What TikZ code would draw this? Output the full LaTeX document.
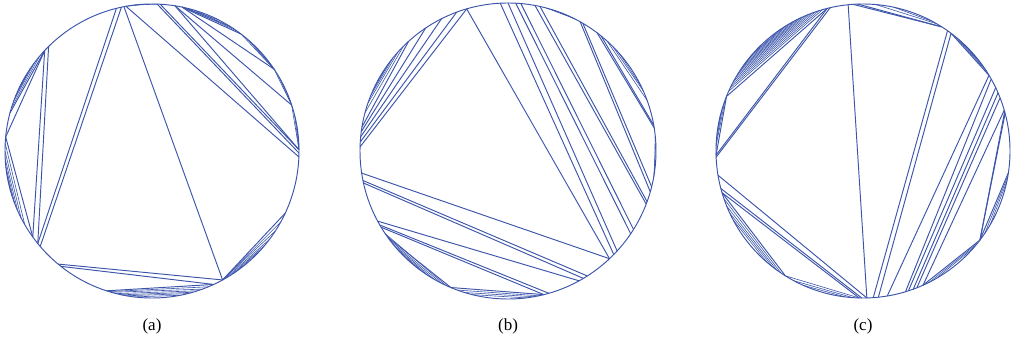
\documentclass[tikz,border=0pt]{standalone}
\usepackage{fontspec}
\setmainfont{Liberation Serif}
\definecolor{cblue}{RGB}{60,85,170}
\tikzset{
  chord/.style={draw=cblue, line width=0.95pt},
  thin chord/.style={draw=cblue, line width=0.6pt},
  rim/.style={draw=cblue, line width=0.95pt},
  caption/.style={font=\fontsize{17}{20}\selectfont, text=black}
}
\newcommand\chordset[3]{\foreach \a/\b in {#3} \draw[#2] (\a:#1) -- (\b:#1);}
\begin{document}
\begin{tikzpicture}[x=1pt,y=1pt]
\useasboundingbox (0,0) rectangle (1011,-344);
% ---------------- (a) ----------------
\begin{scope}[shift={(152,-151)}]
  \draw[rim] (0,0) circle (147);
  \chordset{147}{chord}{104/-141, 102/-139.5, 101/-61.3, 100.2/-2.3, 88/-0.8, 86.8/0.5, 81/0.5, 81/18.2, 78.2/33.8, 78.2/52.7,
    134.7/-141, 136.9/-144.2, 136.9/174.5, 136.9/165, 174.5/-144.2,
    -129.7/-61.3, -128.3/-65.2, -108/-65.2, -61.3/-25}
  \chordset{147}{thin chord}{100.2/93, 97/88, 78.2/58, 78.2/63, 76/55, 73/57,
    52.7/33.8, 49/33.8, 46/35, 33.8/18.2, 30/19, 18.2/0.5, 14/1, 10/2,
    140/163, 143/160, 146/158, 149/155, 152/153,
    177/-150, -180/-153, -177/-156, -174/-159, -171/-162,
    -107/-67.5, -106/-70, -104/-72, -102/-74, -100/-76, -97/-79,
    -61.3/-29, -61.3/-33, -60/-37, -58/-40, -56/-43}
  \node[caption] (la) at (0,-175) {(a)};
\end{scope}
% ---------------- (b) ----------------
\begin{scope}[shift={(508,-151)}]
  \draw[rim] (0,0) circle (148);
  \chordset{148}{chord}{106.2/-46.7, 106.2/178.4, 110.3/176.5, 116.7/174.5, 123.8/172.5, 132.2/170.7,
    -171.4/-46.7, -168.5/-57.6, -167.5/-59.4, -151.7/-61.3, -150/-74, -149/-76,
    -144.4/-112.7, -112.7/-76,
    93/-44.4, 90/-42.5, 87/-34, 85/-32, 79.5/-21, 77.5/-20, 60.8/-16, 59.6/-14, 53/9, 51/10}
  \chordset{148}{thin chord}{135/165, 138/161, 141/158, 144/155, 147/152,
    -146/-115, -143/-117, -141/-120, -139/-123, -136/-126,
    -110/-78, -107/-80, -104/-83,
    75/64, 72/66, 69/63, 48/20, 45/24, 41/26, 6/-8, 3/-10}
  \node[caption] (lb) at (0,-175) {(b)};
\end{scope}
% ---------------- (c) ----------------
\begin{scope}[shift={(863,-151)}]
  \draw[rim] (0,0) circle (147);
  \chordset{147}{chord}{95.8/-88.5, 104.1/181.6, 102.9/182.4, 104.1/158.2, 158.2/181.6,
    93.9/57.6, 92/57.6, 54.9/-86, 53.2/-84, 53.2/30.9,
    31/-80.5, 29.3/-73.2, 25.5/-72, 23.3/-70, 21.2/-68.5, 16.1/-65.9, 15.5/-37.3, 14.8/-37.3,
    -65.9/-37.3, -37.3/-8.5,
    189.5/-88.5, -165.2/-90.5, -163.5/-91.5, -163.5/-121.9}
  \chordset{147}{thin chord}{106/156, 107.5/154.5, 109/153, 110.5/151.5, 112/150, 113.5/148.5, 115/147, 116.5/145.5, 118/144, 120/142, 122/140, 124/138,
    160/178, 163/176, 166/173,
    85/60, 78/62, 51/33, 49/35, 46/37,
    -63/-39, -60/-41, -34/-10, -30/-12,
    -161/-124, -158/-126, -155/-128, -152/-131,
    -121.9/-91.5, -118/-94, -114/-97}
  \node[caption] (lc) at (0,-175) {(c)};
\end{scope}
\end{tikzpicture}
\end{document}
